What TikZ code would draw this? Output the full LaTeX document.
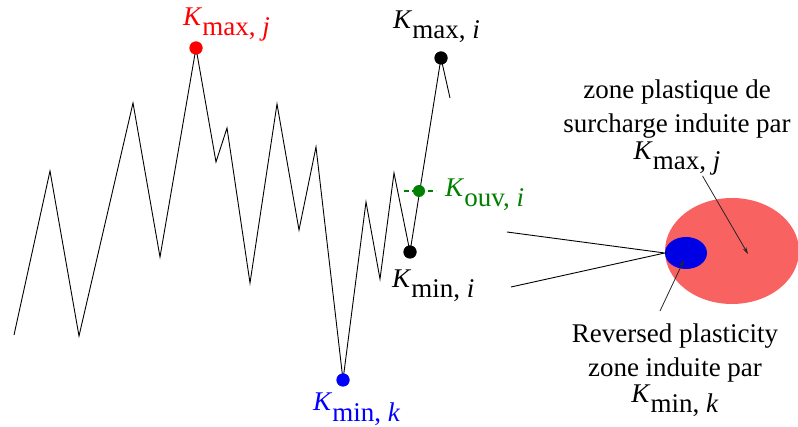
\documentclass[tikz,border=0pt]{standalone}
\usepackage{fontspec}
\setmainfont{Liberation Serif}
\usepackage{tikz}
\usetikzlibrary{arrows.meta, positioning, shapes.geometric}
\definecolor{overloadcol}{RGB}{248,98,96}
\definecolor{reversecol}{RGB}{0,0,228}
\definecolor{ouvcol}{RGB}{0,128,0}
\newcommand{\Kval}[2]{\raisebox{0.38em}{\textit{K}}#1, \textit{#2}}

\begin{document}
\begin{tikzpicture}[
  x=1pt, y=-1pt,
  font=\fontsize{27}{34}\selectfont,
  dot/.style={circle, inner sep=0pt, minimum size=13pt},
  lbl/.style={inner sep=0pt, anchor=base west},
  zone/.style={ellipse, inner sep=0pt},
  note/.style={align=center, inner sep=0pt, anchor=north},
  signal/.style={line width=0.9pt, line join=miter},
  pointer/.style={-{Stealth[length=7pt, width=4pt]}, line width=0.8pt, black!85}
]
  \useasboundingbox (0,0) rectangle (798,427);

  % load history
  \node[dot, fill=red] (kmaxj) at (196,48) {};
  \node[dot, fill=blue] (kmink) at (343,380) {};
  \node[dot, fill=black] (kmini) at (410,252) {};
  \node[dot, fill=black] (kmaxi) at (441,58) {};
  \draw[signal] (14,335) -- (50,171) -- (79,336) -- (133,103) -- (160,257)
    -- (kmaxj.center) -- (216,162) -- (227,128) -- (250,283) -- (277,104)
    -- (299,230) -- (316,147) -- (kmink.center) -- (366,202) -- (380,279)
    -- (394,173) -- (kmini.center) -- (kmaxi.center) -- (450,98);
  \node[dot, fill=red] at (kmaxj) {};
  \node[dot, fill=blue] at (kmink) {};
  \node[dot, fill=black] at (kmini) {};
  \node[dot, fill=black] at (kmaxi) {};
  \draw[ouvcol, line width=1.3pt, dash pattern=on 5pt off 3pt] (404,191) -- (436,191);
  \node[dot, fill=ouvcol, minimum size=12pt] (kouvi) at (419,191) {};

  \node[lbl, text=red] (lmaxj) at (183,36) {\Kval{max}{j}};
  \node[lbl] (lmaxi) at (393,39) {\Kval{max}{i}};
  \node[lbl, text=ouvcol] (louvi) at (445,207) {\Kval{ouv}{i}};
  \node[lbl] (lmini) at (392,298) {\Kval{min}{i}};
  \node[lbl, text=blue] (lmink) at (313,421) {\Kval{min}{k}};

  % crack tip and plastic zones
  \node[zone, fill=overloadcol, minimum width=134pt, minimum height=106pt]
    (overload) at (732,251) {};
  \node[zone, fill=reversecol, minimum width=42pt, minimum height=32pt]
    (reverse) at (686,253) {};
  \coordinate (lipup) at (507,232);
  \coordinate (liplow) at (511,287);
  \draw[line width=0.9pt] (lipup) -- (reverse.west) -- (liplow);

  \node[note] (topnote) at (677,80)
    {zone plastique de\\surcharge induite par\\[3pt]\Kval{max}{j}};
  \node[note] (botnote) at (675,324)
    {Reversed plasticity\\zone induite par\\[2pt]\Kval{min}{k}};
  \coordinate (ovltip) at (748,254);
  \coordinate (revtip) at (684,260);
  \draw[pointer] (topnote.-62) -- (ovltip);
  \draw[pointer] ([xshift=-15pt, yshift=13pt]botnote.north) -- (revtip);
\end{tikzpicture}
\end{document}
